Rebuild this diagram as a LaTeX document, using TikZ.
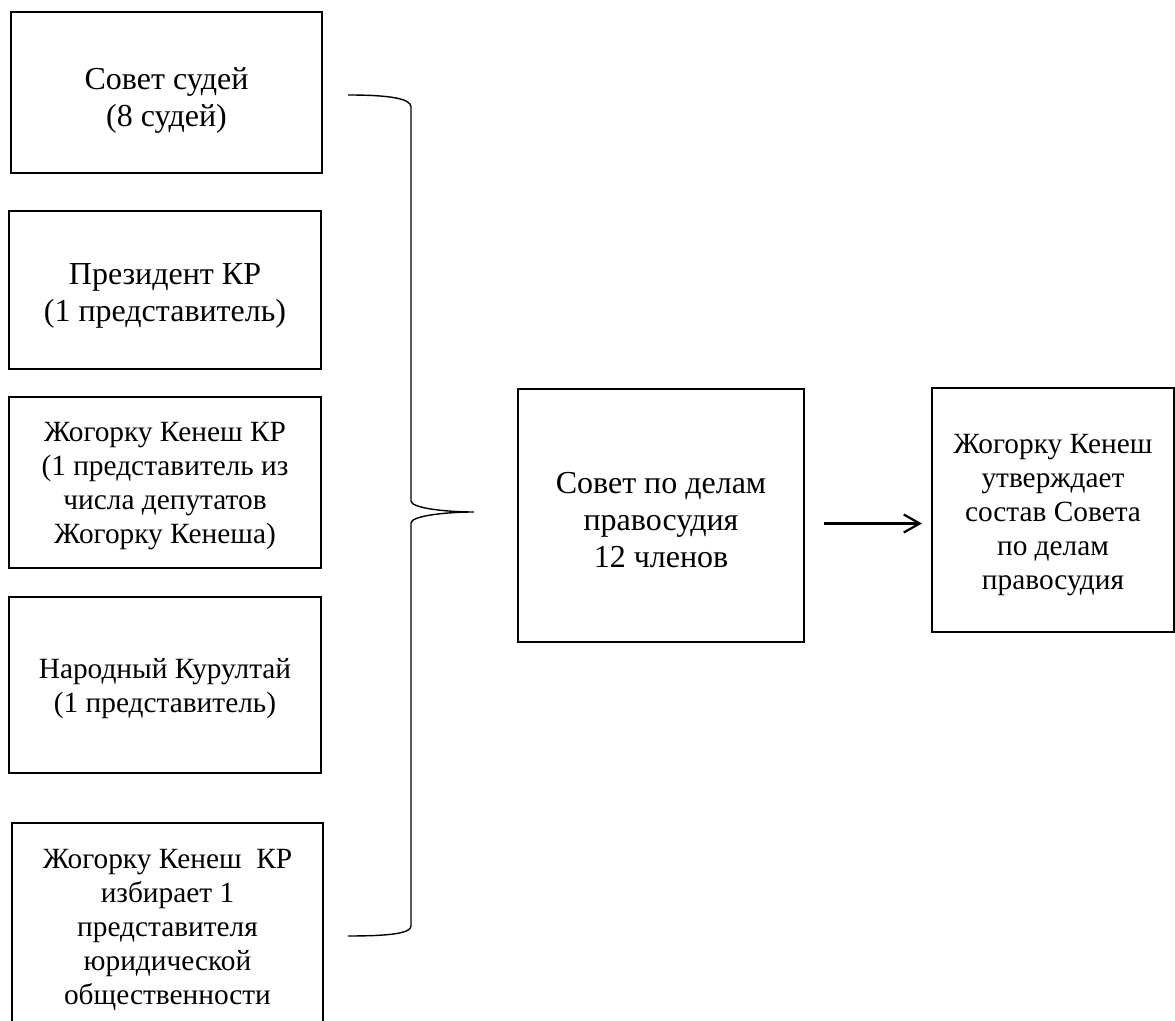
\documentclass[tikz,border=0pt]{standalone}
\usepackage{fontspec}
\setmainfont{Liberation Serif}
\usetikzlibrary{arrows.meta}

\tikzset{
  member/.style={draw, line width=1pt, inner sep=0pt},
  big text/.style={align=center, inner sep=0pt, font=\fontsize{16}{18.5}\selectfont},
  small text/.style={align=center, inner sep=0pt, font=\fontsize{14.67}{17}\selectfont},
  brace line/.style={line width=0.7pt},
  flow/.style={line width=1.1pt, -{Straight Barb[length=8pt,width=9pt,line width=1.1pt]}},
}

\begin{document}
\begin{tikzpicture}[x=0.5pt,y=0.5pt,yscale=-1]
\useasboundingbox (0,0) rectangle (1175,1021);

%Shape: Rectangle
\node (judges) [member, minimum width=155.5pt, minimum height=80.5pt] at (166.5,92.5) {};
\node (president) [member, minimum width=156pt, minimum height=79pt] at (165,290) {};
\node (parliament) [member, minimum width=156pt, minimum height=85.5pt] at (165,482.5) {};
\node (kurultai) [member, minimum width=156pt, minimum height=88pt] at (165,685) {};
\node (public) [member, minimum width=155.5pt, minimum height=104pt] at (167.5,927) {};
\node (council) [member, minimum width=143pt, minimum height=126.5pt] at (661,515.5) {};
\node (approval) [member, minimum width=121pt, minimum height=122pt] at (1053,510) {};

% Text Node
\node (judges text) [big text] at (166.5,101) {Совет судей\\(8 судей)};
% Text Node
\node (president text) [big text] at (165,296) {Президент КР\\(1 представитель)};
% Text Node
\node (parliament text) [small text] at (165,486.5) {Жогорку Кенеш КР\\(1 представитель из\\числа депутатов\\Жогорку Кенеша)};
% Text Node
\node (kurultai text) [small text] at (165,688.5) {Народный Курултай\\(1 представитель)};
% Text Node
\node (public text) [small text] at (167.5,930) {Жогорку Кенеш\ \ КР\\избирает 1\\представителя\\юридической\\общественности};
% Text Node
\node (council text) [big text] at (661,520) {Совет по делам\\правосудия\\12 членов};
% Text Node
\node (approval text) [small text] at (1053,515) {Жогорку Кенеш\\утверждает\\состав Совета\\по делам\\правосудия};

%Shape: Brace
\draw [brace line] (348,95) .. controls (392,95) and (411,99) .. (411,107) -- (411,501) .. controls (411,508) and (445,512) .. (474,512) .. controls (445,512) and (411,516) .. (411,523) -- (411,926) .. controls (411,933) and (392,936) .. (348,936);

%Straight Lines
\draw [flow] ([xshift=9.5pt,yshift=4pt]council.east) -- ([xshift=-4.5pt,yshift=4pt]council.east -| approval.west);

\end{tikzpicture}
\end{document}
